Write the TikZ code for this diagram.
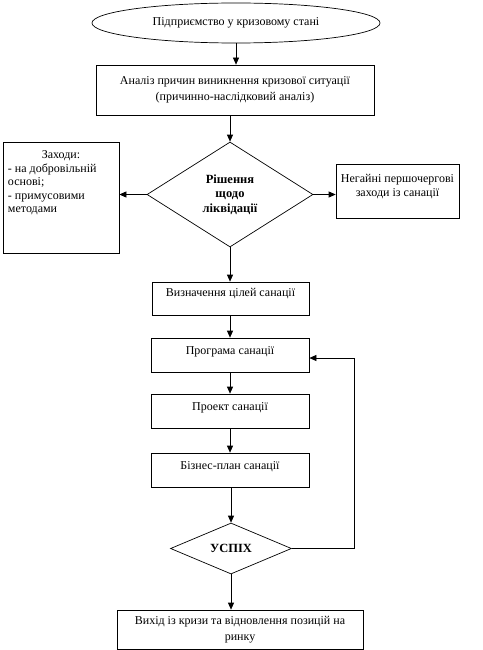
\documentclass[tikz,border=0pt]{standalone}
\usepackage{fontspec}
\setmainfont{Liberation Serif}
\usetikzlibrary{shapes.geometric,arrows.meta}
\begin{document}
\begin{tikzpicture}[x=1pt,y=-1pt,
  every node/.style={font=\fontsize{12}{15.5}\selectfont, inner sep=2pt},
  box/.style={draw, line width=0.7pt, rectangle},
  onebox/.style={box, text height=8pt, text depth=10pt, minimum width=158pt, minimum height=34pt},
  dia/.style={draw, line width=0.7pt, diamond, inner sep=0pt, font=\fontsize{12.5}{14.5}\selectfont\bfseries},
  arr/.style={line width=0.7pt, -{Triangle[length=7pt,width=6pt]}},
  ln/.style={line width=0.7pt}]
\useasboundingbox (0,0) rectangle (482,650);

\node[draw, line width=0.7pt, ellipse, minimum width=288pt, minimum height=40pt, inner sep=0pt] (ell) at (236,23) {Підприємство у кризовому стані};

\node[box, minimum width=278pt, minimum height=50pt, align=center] (an) at (235,90)
  {Аналіз причин виникнення кризової ситуації\\(причинно-наслідковий аналіз)};

\node[dia, minimum width=166pt, minimum height=105pt, align=center] (d1) at (230,194.5)
  {Рішення\\щодо\\ліквідації};

\node[box, inner sep=0pt, minimum width=116pt, minimum height=111pt] (lb) at (61,197.5)
  {\parbox[c][111pt][t]{106pt}{\raggedright\fontsize{12}{13.5}\selectfont\vspace*{9pt}\centerline{Заходи:}- на добровільній\\основі;\\- примусовими\\методами}};

\node[box, inner sep=0pt, minimum width=123pt, minimum height=54pt] (rb) at (397.5,191)
  {\parbox[c][54pt][t]{117pt}{\centering\fontsize{12}{14.5}\selectfont\vspace*{10pt}Негайні першочергові\\заходи із санації}};

\node[onebox, minimum width=157pt, minimum height=33pt, text depth=13pt] (vc) at (230.5,298.5) {Визначення цілей санації};
\node[onebox] (pr) at (230,355) {Програма санації};
\node[onebox, text depth=9pt] (pj) at (230,411) {Проект санації};
\node[onebox] (bp) at (230,470) {Бізнес-план санації};

\node[dia, minimum width=121pt, minimum height=51pt] (us) at (231,548.5) {УСПІХ};

\node[box, minimum width=246pt, minimum height=39pt, align=center] (fin) at (240,629.5)
  {Вихід із кризи та відновлення позицій на\\ринку};

\coordinate (fb) at (354,358);

\draw[arr] (ell.south) -- (ell.south |- an.north);
\draw[arr] (an.south -| d1.north) -- (d1.north);
\draw[arr] (d1.west) -- (d1.west -| lb.east);
\draw[arr] (d1.east) -- (d1.east -| rb.west);
\draw[arr] (d1.south) -- (d1.south |- vc.north);
\draw[arr] (vc.south -| pr.north) -- (pr.north);
\draw[arr] (pr.south) -- (pr.south |- pj.north);
\draw[arr] (pj.south) -- (pj.south |- bp.north);
\draw[arr] (bp.south -| us.north) -- (us.north);
\draw[arr] (us.south) -- (us.south |- fin.north);
\draw[ln] (us.east) -| (fb);
\draw[arr] (fb) -- (fb -| pr.east);
\end{tikzpicture}
\end{document}
